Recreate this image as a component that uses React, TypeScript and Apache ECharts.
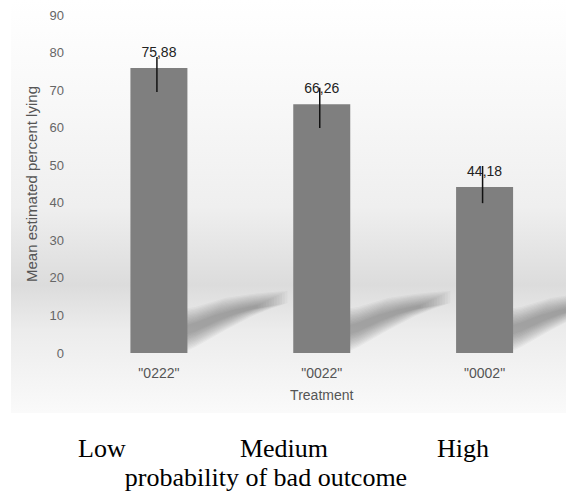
import React, { useEffect, useRef } from "react";
import * as echarts from "echarts";

const categories = ['"0222"', '"0022"', '"0002"'];
const means = [75.88, 66.26, 44.18];
const errLow = [69.5, 59.9, 39.9];
const errHigh = [78.8, 70.6, 49.8];
const yMin = 0;
const yMax = 90;
const yStep = 10;
const bottomLabels = ["Low", "Medium", "High"];
const bottomTitle = "probability of bad outcome";
const xTitle = "Treatment";
const yTitle = "Mean estimated percent lying";

export default function App() {
  const ref = useRef<HTMLDivElement>(null);
  useEffect(() => {
    const chart = echarts.init(ref.current!, null, { renderer: "svg" });
    const barWidth = 57;
    const option: any = {
      animation: false,
      textStyle: { fontFamily: "Liberation Sans" },
      grid: { left: 77.5, top: 15, width: 492, height: 338 },
      xAxis: {
        type: "category",
        data: categories,
        axisLine: { show: false },
        axisTick: { show: false },
        axisLabel: { margin: 13, fontSize: 14, color: "#555" },
        name: xTitle,
        nameLocation: "middle",
        nameGap: 35,
        nameTextStyle: { fontSize: 14, color: "#555" },
      },
      yAxis: {
        type: "value",
        min: yMin,
        max: yMax,
        interval: yStep,
        splitLine: { show: false },
        axisLine: { show: false },
        axisTick: { show: false },
        axisLabel: { margin: 13.5, fontSize: 13, color: "#666" },
        name: yTitle,
        nameLocation: "middle",
        nameGap: 36,
        nameTextStyle: { fontSize: 15, color: "#555" },
      },
      series: [
        {
          type: "bar",
          data: means,
          barWidth,
          itemStyle: { color: "#7f7f7f" },
          z: 2,
          label: {
            show: true,
            position: "top",
            distance: 9,
            fontSize: 14,
            color: "#222",
            formatter: (p: any) => Number(p.value).toFixed(2).replace(".", ","),
          },
        },
        {
          type: "custom",
          z: 3,
          data: means.map((_, i) => [i, errLow[i], errHigh[i]]),
          renderItem: (params: any, api: any) => {
            const lo = api.coord([api.value(0), api.value(1)]);
            const hi = api.coord([api.value(0), api.value(2)]);
            return {
              type: "line",
              shape: { x1: lo[0] - 2, y1: lo[1], x2: hi[0] - 2, y2: hi[1] },
              style: { stroke: "#111", lineWidth: 1.5 },
            };
          },
        },
      ],
    };
    chart.setOption(option);

    const graphics: any[] = [];
    graphics.push({
      type: "rect",
      z: -100,
      shape: { x: 11, y: 0, width: 560, height: 413 },
      style: {
        fill: new echarts.graphic.LinearGradient(0, 0, 0, 1, [
          { offset: 0, color: "#ffffff" },
          { offset: 0.25, color: "#f8f8f8" },
          { offset: 0.5, color: "#efefef" },
          { offset: 0.69, color: "#dcdcdc" },
          { offset: 0.8, color: "#ececec" },
          { offset: 1, color: "#fafafa" },
        ]),
      },
    });

    // soft cast shadow profile relative to the bar's bottom-right corner: [dx, centre dy, half thickness]
    const prof = [
      [-5, -22, 22],
      [8, -26, 20],
      [38, -39, 16],
      [65, -48, 11],
      [85, -53, 8],
      [100, -56, 6],
    ];
    const N = 12;
    means.forEach((_, i) => {
      const p = chart.convertToPixel({ xAxisIndex: 0, yAxisIndex: 0 }, [i, 0]) as number[];
      const bx = p[0] + barWidth / 2;
      const by = p[1];
      for (let k = 0; k < N; k++) {
        const s = 1 - (k / N) * 0.85;
        const endScale = 1 - (k / N) * 0.35;
        const top: number[][] = [];
        const bot: number[][] = [];
        prof.forEach(([dx, c, h]) => {
          const x = dx < 10 ? dx : 8 + (dx - 8) * endScale;
          const cy = dx < 10 ? c : -26 + (c + 26) * endScale;
          top.push([bx + x, by + cy - h * s]);
          bot.push([bx + x, by + cy + h * s]);
        });
        graphics.push({
          type: "polygon",
          z: -50,
          shape: { points: top.concat(bot.reverse()) },
          style: { fill: "rgba(70,70,70,0.045)" },
        });
      }
    });

    const bottomPos = [
      { x: 78, align: "left" },
      { x: 284, align: "center" },
      { x: 489, align: "right" },
    ];
    bottomLabels.forEach((t, i) => {
      graphics.push({
        type: "text",
        x: bottomPos[i].x,
        y: 448,
        style: {
          text: t,
          fontSize: 26,
          fontFamily: "Liberation Serif",
          fill: "#000",
          align: bottomPos[i].align,
          verticalAlign: "middle",
        },
      });
    });
    graphics.push({
      type: "text",
      x: 266,
      y: 477,
      style: {
        text: bottomTitle,
        fontSize: 26,
        fontFamily: "Liberation Serif",
        fill: "#000",
        align: "center",
        verticalAlign: "middle",
      },
    });

    chart.setOption({ graphic: graphics });
    return () => chart.dispose();
  }, []);
  return (
    <div
      ref={ref}
      style={{ position: "absolute", left: 0, top: 0, width: 566, height: 492 }}
    />
  );
}
